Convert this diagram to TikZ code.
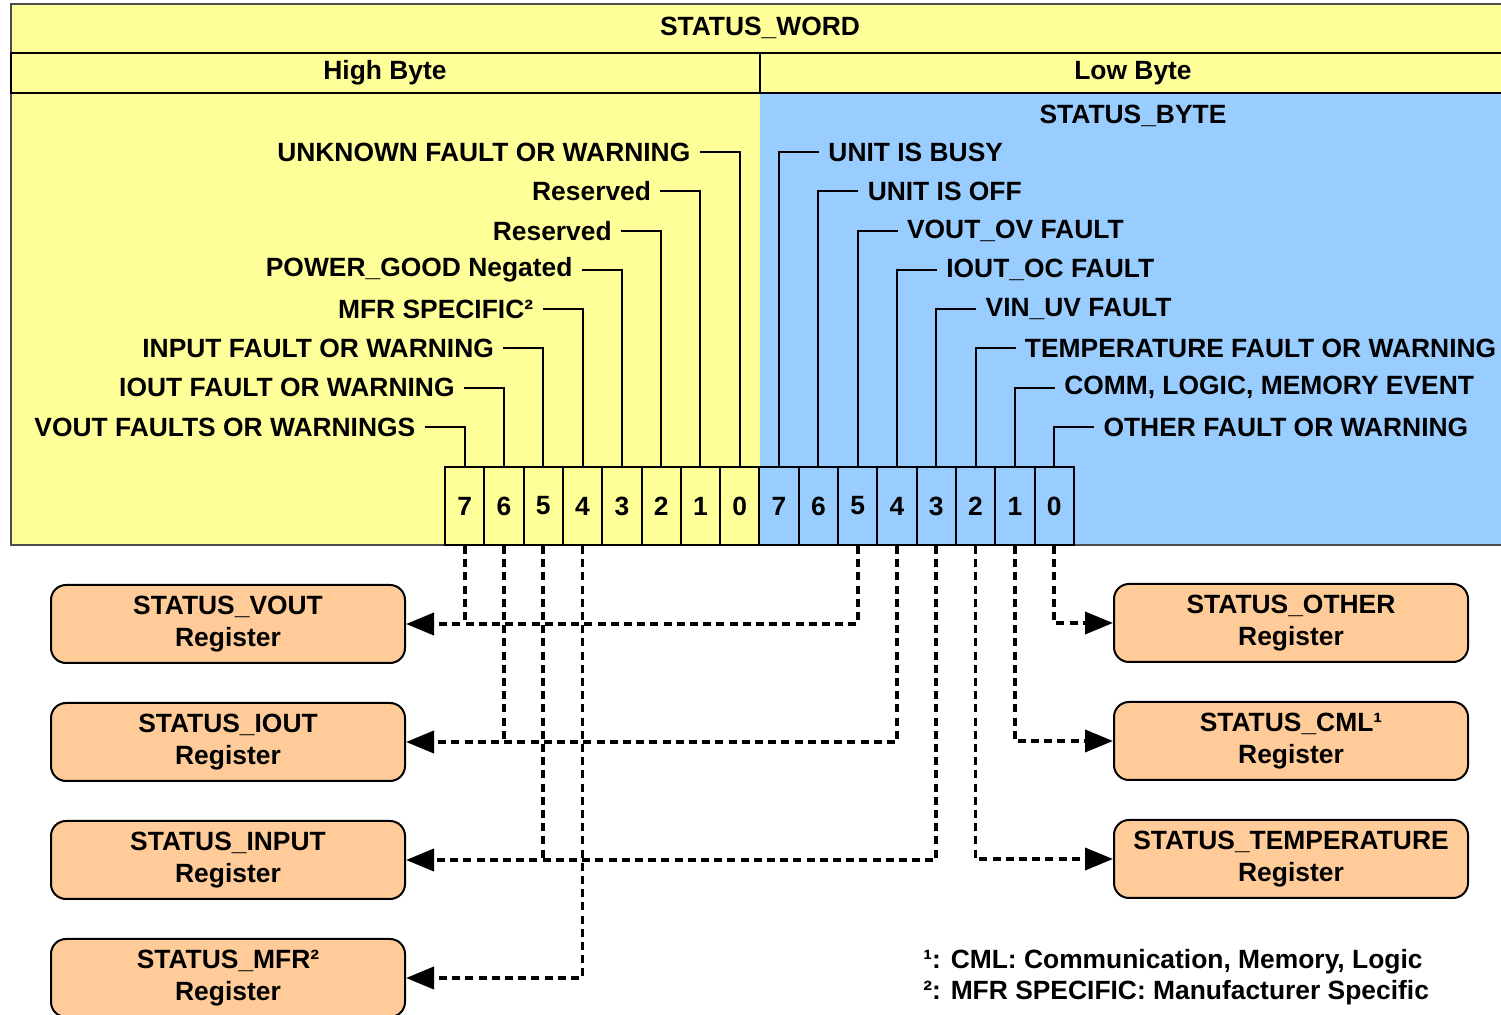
\documentclass[tikz,border=0pt]{standalone}
\usepackage{fontspec}
\setmainfont{Liberation Sans}
\usetikzlibrary{arrows.meta,positioning}
\definecolor{swink}{HTML}{000000}
\definecolor{swframe}{HTML}{4D4D4D}
\definecolor{swhigh}{HTML}{FFFF99}
\definecolor{swlow}{HTML}{99CCFF}
\definecolor{swreg}{HTML}{FFCC99}
\tikzset{
  swtext/.style={
    font=\fontsize{13.2}{16}\selectfont\bfseries,
    text=swink
  },
  swhead/.style={
    swtext,
    inner sep=0pt
  },
  swbit/.style={
    swtext,
    draw=swink,
    line width=1pt,
    minimum width=19.65pt,
    minimum height=39pt,
    inner sep=0pt
  },
  swlabel/.style={
    swtext,
    inner xsep=4.5pt,
    inner ysep=0pt
  },
  swtick/.style={
    line width=1pt,
    color=swink
  },
  swregbox/.style={
    swtext,
    draw=swink,
    fill=swreg,
    line width=1pt,
    rounded corners=7.5pt,
    minimum width=177pt,
    minimum height=39pt,
    align=center,
    inner sep=0pt
  },
  swlink/.style={
    line width=1.9pt,
    dash pattern=on 4pt off 2.6pt,
    color=swink
  },
  swarrow/.style={
    swlink,
    -{Triangle[length=14pt,width=11pt]}
  },
  swnote/.style={
    swtext,
    anchor=west,
    inner sep=0pt
  }
}

\begin{document}
\begin{tikzpicture}[x=0.5pt,y=-0.5pt]
  \useasboundingbox (0,0) rectangle (1501,1015);

  % word frame
  \fill[swhigh] (11,4) rectangle (1510,545);
  \fill[swlow] (760,93) rectangle (1510,545);
  \draw[line width=0.6pt, swframe] (1510,4) -- (11,4) -- (11,545) -- (1510,545);
  \draw[line width=1.2pt, swink] (11,53) rectangle (1510,93) (760,53) -- (760,93);

  \node[swhead] (word) at (760,28) {STATUS\_WORD};
  \node[swhead] (high) at (385,73) {High Byte};
  \node[swhead] (low) at (1133,73) {Low Byte};
  \node[swhead] (sbyte) at (1133,116) {STATUS\_BYTE};

  % bit cells
  \foreach \i in {0,...,7} {
    \node[swbit, fill=swhigh] (hb\i) at ({464.65+39.3*(7-\i)},506) {\i};
    \node[swbit, fill=swlow] (lb\i) at ({779.05+39.3*(7-\i)},506) {\i};
  }

  % bit names
  \foreach \i/\bitname in {0/UNKNOWN FAULT OR WARNING, 1/Reserved, 2/Reserved,
      3/POWER\_GOOD Negated, 4/MFR SPECIFIC², 5/INPUT FAULT OR WARNING,
      6/IOUT FAULT OR WARNING, 7/VOUT FAULTS OR WARNINGS} {
    \node[swlabel, anchor=east] (hn\i) at ({424.65+39.3*(7-\i)},{152+39.3*\i}) {\bitname};
    \draw[swtick] (hn\i.east) -| (hb\i.north);
  }
  \foreach \i/\bitname in {7/UNIT IS BUSY, 6/UNIT IS OFF, 5/VOUT\_OV FAULT,
      4/IOUT\_OC FAULT, 3/VIN\_UV FAULT, 2/TEMPERATURE FAULT OR WARNING,
      {1/COMM, LOGIC, MEMORY EVENT}, 0/OTHER FAULT OR WARNING} {
    \node[swlabel, anchor=west] (ln\i) at ({819.05+39.3*(7-\i)},{152+39.3*(7-\i)}) {\bitname};
    \draw[swtick] (ln\i.west) -| (lb\i.north);
  }

  % registers
  \node[swregbox] (vout) at (228,624) {STATUS\_VOUT\\Register};
  \node[swregbox, below=19pt of vout] (iout) {STATUS\_IOUT\\Register};
  \node[swregbox, below=19pt of iout] (input) {STATUS\_INPUT\\Register};
  \node[swregbox, below=19pt of input] (mfr) {STATUS\_MFR²\\Register};
  \node[swregbox] (other) at (1291,623) {STATUS\_OTHER\\Register};
  \node[swregbox, below=19pt of other] (cml) {STATUS\_CML¹\\Register};
  \node[swregbox, below=19pt of cml] (temp) {STATUS\_TEMPERATURE\\Register};

  \draw[swlink] (hb7.south) -- (hb7.south |- vout.east);
  \draw[swarrow] (lb5.south) |- (vout.east);
  \draw[swlink] (hb6.south) -- (hb6.south |- iout.east);
  \draw[swarrow] (lb4.south) |- (iout.east);
  \draw[swlink] (hb5.south) -- (hb5.south |- input.east);
  \draw[swarrow] (lb3.south) |- (input.east);
  \draw[swarrow] (hb4.south) |- (mfr.east);
  \draw[swarrow] (lb0.south) |- (other.west);
  \draw[swarrow] (lb1.south) |- (cml.west);
  \draw[swarrow] (lb2.south) |- (temp.west);

  \node[swnote] (note1) at (923,962) {¹: CML: Communication, Memory, Logic};
  \node[swnote] (note2) at (923,993) {²: MFR SPECIFIC: Manufacturer Specific};
\end{tikzpicture}
\end{document}
